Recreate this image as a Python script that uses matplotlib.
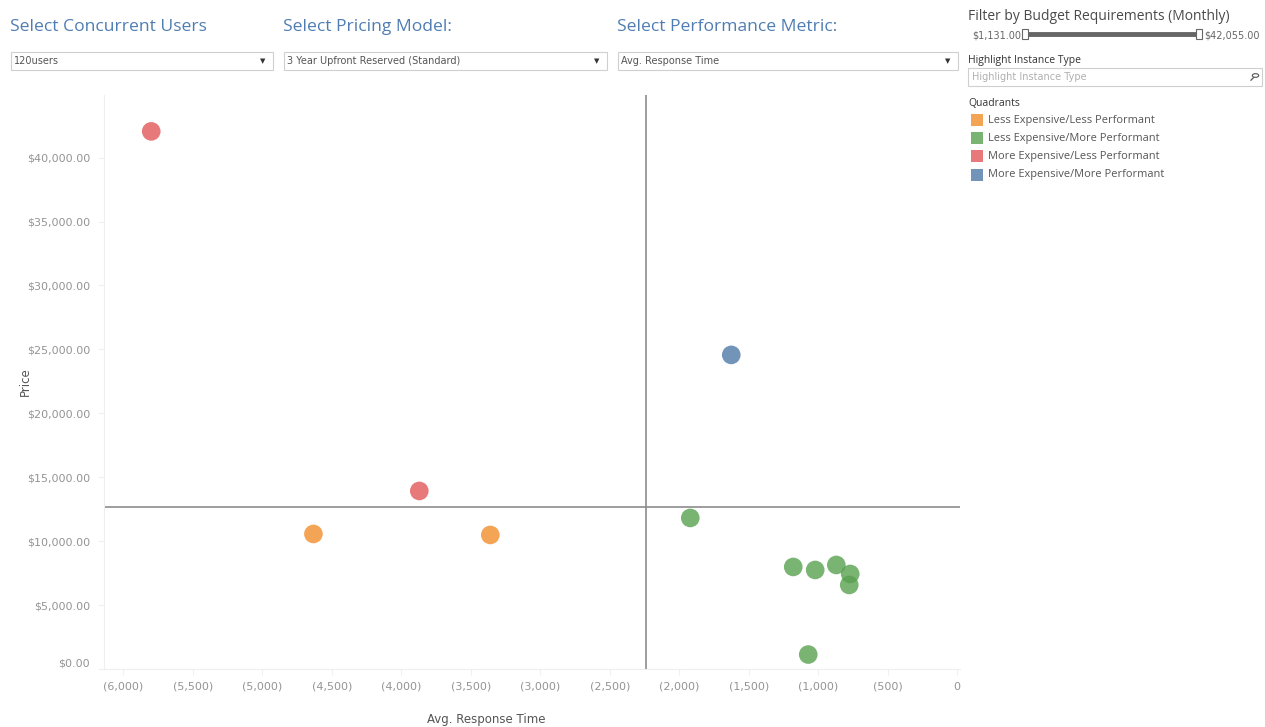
import matplotlib.pyplot as plt
import numpy as np
from matplotlib.patches import Rectangle, Circle
from matplotlib.ticker import FuncFormatter

# instance points: avg response time (shown negative), monthly price, quadrant
response_time = [-5800, -1626, -3871, -4633, -3360, -1921, -1180, -1022, -870, -770, -777, -1072]
price = [42055, 24570, 13928, 10564, 10486, 11816, 7982, 7747, 8138, 7434, 6573, 1131]
quadrant = [2, 3, 2, 0, 0, 1, 1, 1, 1, 1, 1, 1]

quadrant_names = [
    "Less Expensive/Less Performant",
    "Less Expensive/More Performant",
    "More Expensive/Less Performant",
    "More Expensive/More Performant",
]
quadrant_colors = ["#F28E2B", "#59A14F", "#E15759", "#4E79A7"]

x_ticks = np.arange(-6000, 1, 500)
y_ticks = np.arange(0, 40001, 5000)

W, H = 1265, 727
TITLE_BLUE = "#4F7DB3"
GRAY_TXT = "#949494"
DARK_TXT = "#4a4a4a"
NARROW = ["Liberation Sans Narrow", "DejaVu Sans"]


def fx(px):
    return px / W


def fy(py):
    return 1 - py / H


fig = plt.figure(figsize=(W / 100, H / 100), dpi=100)
fig.patch.set_facecolor("white")

ax = fig.add_axes([fx(104), fy(669), (960 - 104) / W, (669 - 95) / H])
for q in range(4):
    idx = [i for i, v in enumerate(quadrant) if v == q]
    ax.scatter(
        [response_time[i] for i in idx],
        [price[i] for i in idx],
        s=180,
        color=quadrant_colors[q],
        alpha=0.8,
        edgecolors="none",
        zorder=3,
    )

ax.axvline(np.mean(response_time), color="#8c8c8c", lw=1.2, zorder=2)
ax.axhline(np.mean(price), color="#8c8c8c", lw=1.2, zorder=2)

ax.set_xlim(-6140, 20)
ax.set_ylim(0, 44900)
ax.set_xticks(x_ticks)
ax.set_yticks(y_ticks)
ax.xaxis.set_major_formatter(FuncFormatter(lambda v, p: f"({abs(v):,.0f})" if v < 0 else "0"))
ax.yaxis.set_major_formatter(FuncFormatter(lambda v, p: f"${v:,.2f}"))
ax.tick_params(axis="both", colors="#f0f0f0", labelcolor=GRAY_TXT, length=4)
ax.tick_params(axis="y", pad=6)
ax.tick_params(axis="x", pad=5)
for lab in ax.get_xticklabels() + ax.get_yticklabels():
    lab.set_family(NARROW)
    lab.set_fontsize(8)
# Tableau nudges the bottom label up so it stays inside the pane
ax.get_yticklabels()[0].set_va("bottom")
for side in ["top", "right"]:
    ax.spines[side].set_visible(False)
for side in ["left", "bottom"]:
    ax.spines[side].set_color("#eeeeee")

fig.text(fx(25), fy(382), "Price", rotation=90, ha="center", va="center",
         fontsize=8.5, color="#555555", family=NARROW)
fig.text(fx(486), fy(719), "Avg. Response Time", ha="center", va="center",
         fontsize=8.5, color="#555555", family=NARROW)

# parameter controls across the top
controls = [
    ("Select Concurrent Users", "120users", 11, 273),
    ("Select Pricing Model:", "3 Year Upfront Reserved (Standard)", 284, 607),
    ("Select Performance Metric:", "Avg. Response Time", 618, 958),
]
for title, value, x0, x1 in controls:
    fig.text(fx(x0 - 1), fy(27), title, ha="left", va="center", fontsize=12.6,
             color=TITLE_BLUE, family=["Open Sans", "DejaVu Sans"], weight="medium")
    fig.patches.append(Rectangle((fx(x0), fy(70)), fx(x1 - x0), (70 - 52) / H,
                                 transform=fig.transFigure, facecolor="white",
                                 edgecolor="#cfcfcf", lw=0.8))
    fig.text(fx(x0 + 3), fy(61.5), value, ha="left", va="center", fontsize=7,
             color="#555555", family=NARROW)
    fig.text(fx(x1 - 10), fy(61), "\u25bc", ha="center", va="center", fontsize=5, color="#333333")

# budget filter slider
fig.text(fx(968), fy(17), "Filter by Budget Requirements (Monthly)", ha="left", va="center",
         fontsize=10, color=DARK_TXT, family=["Open Sans", "DejaVu Sans"])
fig.text(fx(972), fy(35.5), "$1,131.00", ha="left", va="center", fontsize=7,
         color="#666666", family=NARROW)
fig.text(fx(1204), fy(35.5), "$42,055.00", ha="left", va="center", fontsize=7,
         color="#666666", family=NARROW)
fig.lines.append(plt.Line2D([fx(1027), fx(1200)], [fy(34), fy(34)], transform=fig.transFigure,
                            color="#666666", lw=3.5, solid_capstyle="butt"))
for hx in [1025, 1199]:
    fig.patches.append(Rectangle((fx(hx - 3), fy(39)), fx(6), 10 / H, transform=fig.transFigure,
                                 facecolor="white", edgecolor="#666666", lw=0.8, zorder=5))

# highlight search box
fig.text(fx(968), fy(60), "Highlight Instance Type", ha="left", va="center",
         fontsize=7.5, color="#333333", family=["Open Sans", "DejaVu Sans"])
fig.patches.append(Rectangle((fx(968), fy(86)), fx(1262 - 968), 18 / H,
                             transform=fig.transFigure, facecolor="white",
                             edgecolor="#cfcfcf", lw=0.8))
fig.text(fx(972), fy(77), "Highlight Instance Type", ha="left", va="center",
         fontsize=7, color="#b0b0b0", family=NARROW)
# magnifier icon drawn as a shape (no installed font has the glyph)
fig.patches.append(Circle((fx(1255.5), fy(75.5)), 3.2 / W, transform=fig.transFigure,
                          facecolor="none", edgecolor="#555555", lw=0.8))
fig.lines.append(plt.Line2D([fx(1253.3), fx(1251)], [fy(77.8), fy(80.2)], transform=fig.transFigure,
                            color="#555555", lw=0.9))

# quadrant legend
fig.text(fx(968), fy(103), "Quadrants", ha="left", va="center",
         fontsize=7.5, color="#333333", family=["Open Sans", "DejaVu Sans"])
for i, (name, col) in enumerate(zip(quadrant_names, quadrant_colors)):
    yc = 120 + i * 18.2
    fig.patches.append(Rectangle((fx(971), fy(yc + 6)), fx(12), 12 / H,
                                 transform=fig.transFigure, facecolor=col, alpha=0.8,
                                 edgecolor="none"))
    fig.text(fx(988), fy(yc), name, ha="left", va="center", fontsize=7.9,
             color="#555555", family=["Open Sans", "DejaVu Sans"])

fig.savefig("out.png", dpi=100)
